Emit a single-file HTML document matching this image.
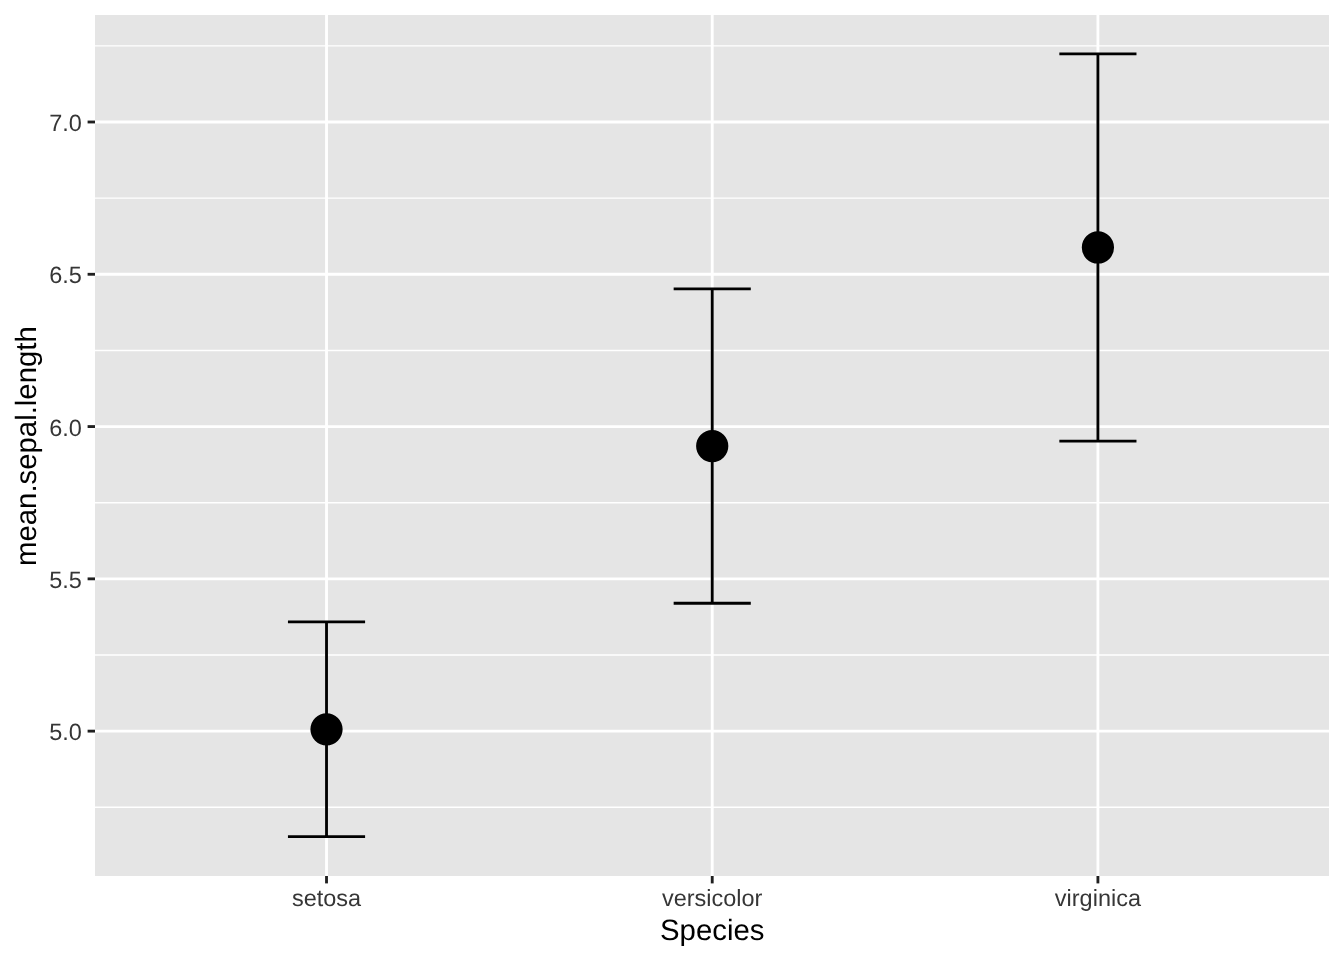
<!DOCTYPE html>
<html><head><meta charset="utf-8"><title>mean.sepal.length by Species</title>
<style>
html,body{margin:0;padding:0;background:#fff;}
svg{display:block;will-change:transform;text-rendering:geometricPrecision;}
.ax{font-family:"Liberation Sans",Arial,sans-serif;font-size:23.47px;fill:#363636;}
.ti{font-family:"Liberation Sans",Arial,sans-serif;font-size:29.33px;fill:#000;}
</style></head>
<body>
<svg width="1344" height="960" viewBox="0 0 1344 960">
<rect width="1344" height="960" fill="#fff"/>
<rect x="95" y="15" width="1234" height="861" fill="#E5E5E5"/>
<line x1="95" x2="1329" y1="807.27" y2="807.27" stroke="#fff" stroke-width="1.423"/>
<line x1="95" x2="1329" y1="654.99" y2="654.99" stroke="#fff" stroke-width="1.423"/>
<line x1="95" x2="1329" y1="502.70" y2="502.70" stroke="#fff" stroke-width="1.423"/>
<line x1="95" x2="1329" y1="350.42" y2="350.42" stroke="#fff" stroke-width="1.423"/>
<line x1="95" x2="1329" y1="198.14" y2="198.14" stroke="#fff" stroke-width="1.423"/>
<line x1="95" x2="1329" y1="45.85" y2="45.85" stroke="#fff" stroke-width="1.423"/>
<line x1="95" x2="1329" y1="731.13" y2="731.13" stroke="#fff" stroke-width="2.845"/>
<line x1="95" x2="1329" y1="578.85" y2="578.85" stroke="#fff" stroke-width="2.845"/>
<line x1="95" x2="1329" y1="426.56" y2="426.56" stroke="#fff" stroke-width="2.845"/>
<line x1="95" x2="1329" y1="274.28" y2="274.28" stroke="#fff" stroke-width="2.845"/>
<line x1="95" x2="1329" y1="122.00" y2="122.00" stroke="#fff" stroke-width="2.845"/>
<line x1="326.52" x2="326.52" y1="15" y2="876" stroke="#fff" stroke-width="2.845"/>
<line x1="712.22" x2="712.22" y1="15" y2="876" stroke="#fff" stroke-width="2.845"/>
<line x1="1097.91" x2="1097.91" y1="15" y2="876" stroke="#fff" stroke-width="2.845"/>
<path d="M287.95 621.94H365.09M326.52 621.94V836.66M287.95 836.66H365.09" stroke="#000" stroke-width="2.845" fill="none"/>
<path d="M673.65 288.85H750.79M712.22 288.85V603.26M673.65 603.26H750.79" stroke="#000" stroke-width="2.845" fill="none"/>
<path d="M1059.34 53.81H1136.48M1097.91 53.81V441.14M1059.34 441.14H1136.48" stroke="#000" stroke-width="2.845" fill="none"/>
<circle cx="326.52" cy="729.30" r="15.17" fill="#000" stroke="#000" stroke-width="1.890"/>
<circle cx="712.22" cy="446.05" r="15.17" fill="#000" stroke="#000" stroke-width="1.890"/>
<circle cx="1097.91" cy="247.48" r="15.17" fill="#000" stroke="#000" stroke-width="1.890"/>
<line x1="87.6" x2="95" y1="731.13" y2="731.13" stroke="#202020" stroke-width="2.845"/>
<line x1="87.6" x2="95" y1="578.85" y2="578.85" stroke="#202020" stroke-width="2.845"/>
<line x1="87.6" x2="95" y1="426.56" y2="426.56" stroke="#202020" stroke-width="2.845"/>
<line x1="87.6" x2="95" y1="274.28" y2="274.28" stroke="#202020" stroke-width="2.845"/>
<line x1="87.6" x2="95" y1="122.00" y2="122.00" stroke="#202020" stroke-width="2.845"/>
<line x1="326.52" x2="326.52" y1="876" y2="883.4" stroke="#202020" stroke-width="2.845"/>
<line x1="712.22" x2="712.22" y1="876" y2="883.4" stroke="#202020" stroke-width="2.845"/>
<line x1="1097.91" x2="1097.91" y1="876" y2="883.4" stroke="#202020" stroke-width="2.845"/>
<text x="81.90" y="740.00" text-anchor="end" class="ax">5.0</text>
<text x="81.90" y="588.00" text-anchor="end" class="ax">5.5</text>
<text x="81.90" y="436.00" text-anchor="end" class="ax">6.0</text>
<text x="81.90" y="283.00" text-anchor="end" class="ax">6.5</text>
<text x="81.90" y="131.00" text-anchor="end" class="ax">7.0</text>
<text x="326.52" y="906.30" text-anchor="middle" class="ax">setosa</text>
<text x="712.22" y="906.30" text-anchor="middle" class="ax">versicolor</text>
<text x="1097.91" y="906.30" text-anchor="middle" class="ax">virginica</text>
<text x="712.22" y="939.6" text-anchor="middle" class="ti">Species</text>
<text transform="translate(35.6 446.13) rotate(-90)" text-anchor="middle" class="ti">mean.sepal.length</text>
</svg>
</body></html>
